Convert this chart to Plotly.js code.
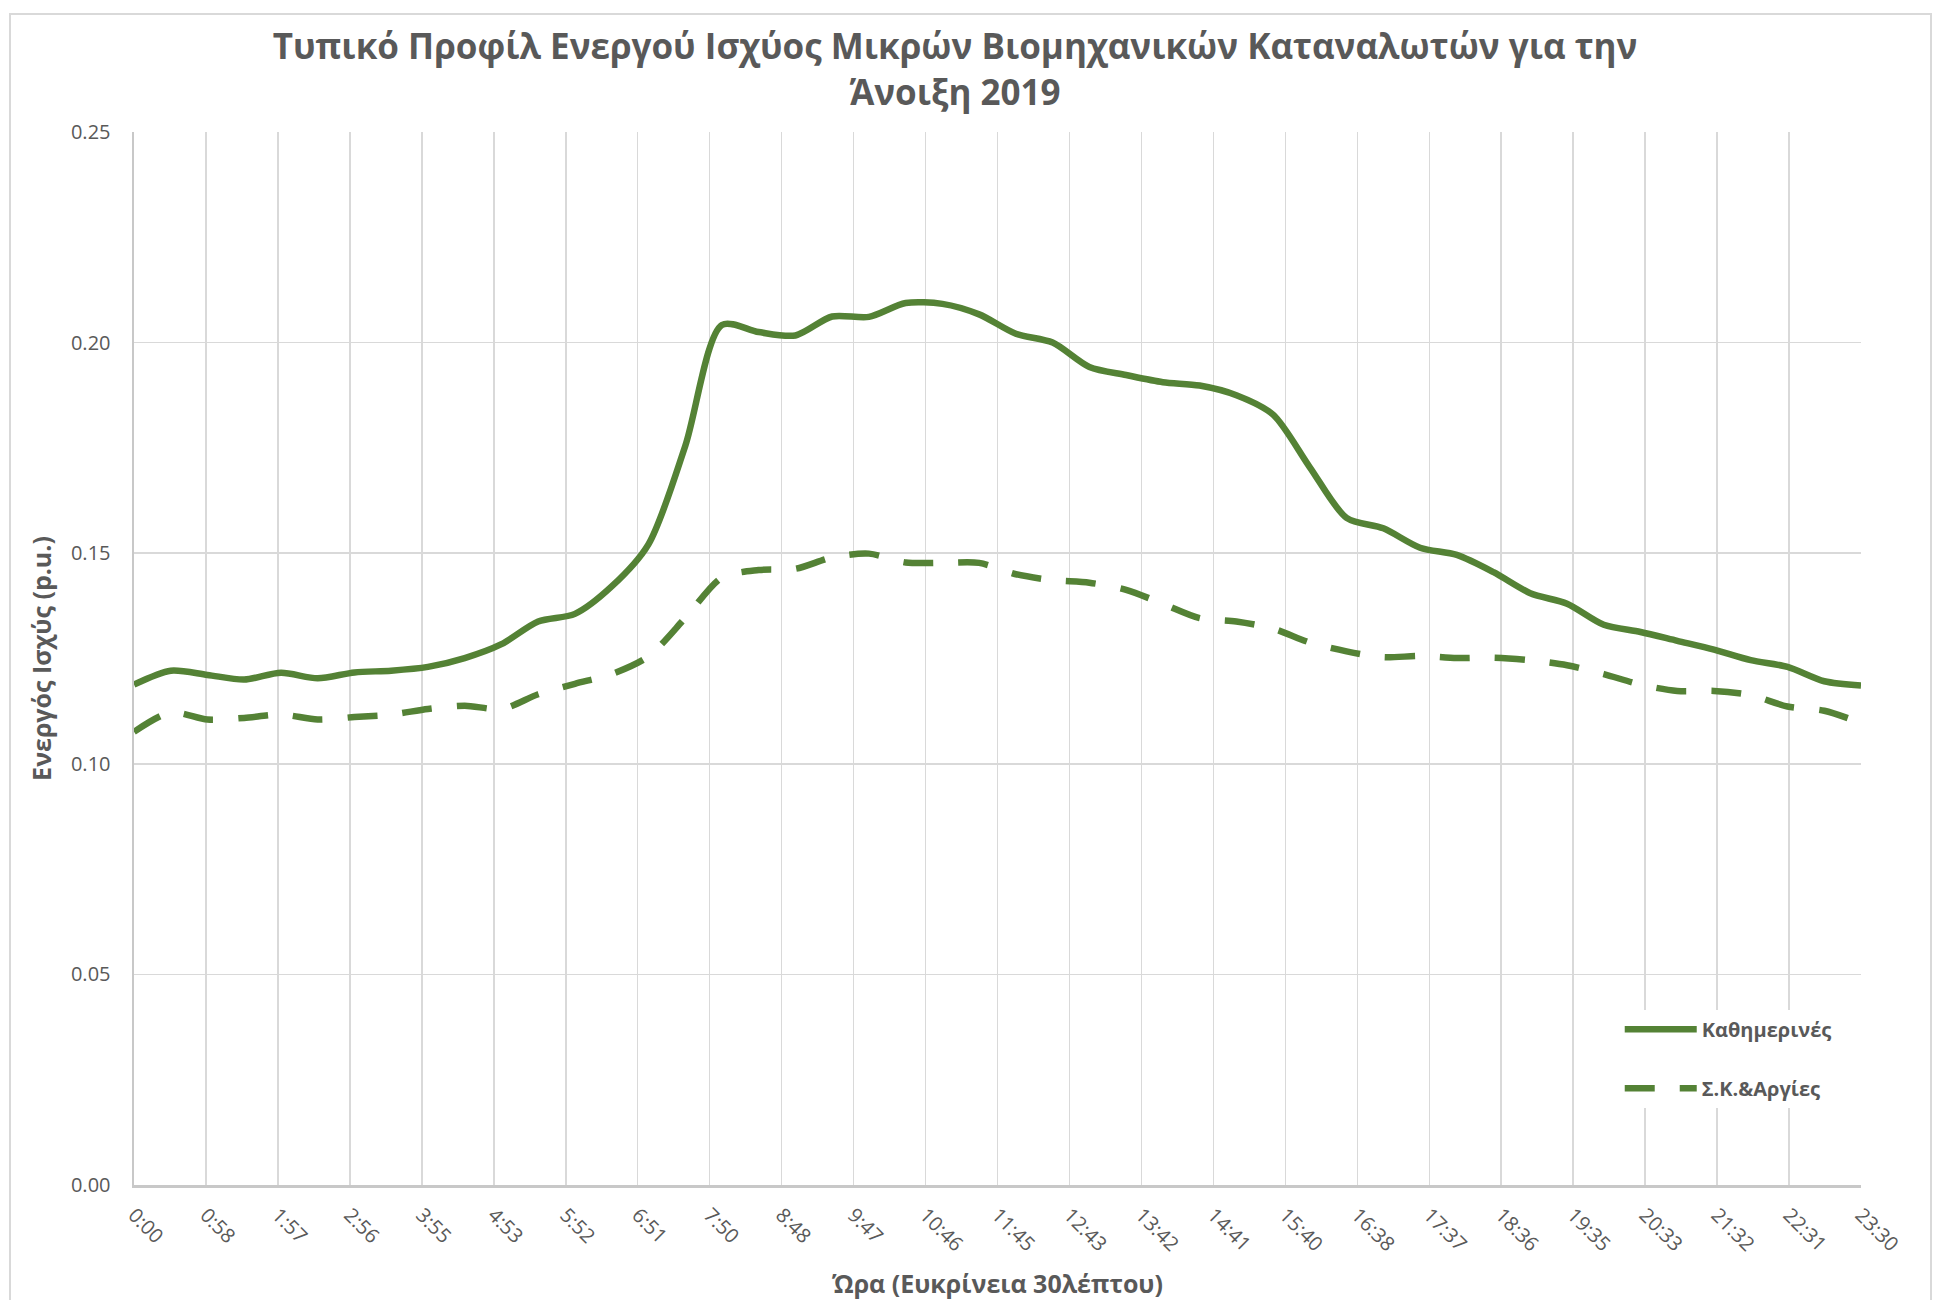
<!DOCTYPE html>
<html>
<head>
<meta charset="utf-8">
<script src="https://cdn.plot.ly/plotly-3.0.1.min.js"></script>
<style>
  html, body { margin: 0; padding: 0; background: #ffffff; width: 1945px; height: 1300px; overflow: hidden; }
  #frame { position: absolute; left: 9px; top: 13px; width: 1923px; height: 1330px; border: 2px solid #d9d9d9; box-sizing: border-box; }
  #chart { position: absolute; left: 0; top: 0; width: 1945px; height: 1300px; }
</style>
</head>
<body>
<div id="frame"></div>
<div id="chart"></div>
<script>
// Half-hour time stamps (0:00 ... 23:30)
const times = ["0:00","0:30","1:00","1:30","2:00","2:30","3:00","3:30","4:00","4:30","5:00","5:30",
  "6:00","6:30","7:00","7:30","8:00","8:30","9:00","9:30","10:00","10:30","11:00","11:30",
  "12:00","12:30","13:00","13:30","14:00","14:30","15:00","15:30","16:00","16:30","17:00","17:30",
  "18:00","18:30","19:00","19:30","20:00","20:30","21:00","21:30","22:00","22:30","23:00","23:30"];

// Weekdays (Καθημερινές), p.u.
const weekdays = [0.1188,0.1221,0.1211,0.1200,0.1216,0.1203,0.1217,0.1221,0.1230,0.1251,0.1284,0.1338,
  0.1356,0.1421,0.1521,0.1754,0.2042,0.2025,0.2017,0.2062,0.2061,0.2094,0.2092,0.2067,
  0.2021,0.2000,0.1942,0.1923,0.1906,0.1898,0.1875,0.1829,0.1704,0.1584,0.1559,0.1513,
  0.1496,0.1455,0.1405,0.1380,0.1330,0.1313,0.1292,0.1271,0.1246,0.1230,0.1196,0.1186];

// Weekends & holidays (Σ.Κ.&Αργίες), p.u.
const weekends = [0.1076,0.1122,0.1105,0.1109,0.1117,0.1105,0.1111,0.1117,0.1130,0.1138,0.1130,0.1165,
  0.1190,0.1213,0.1255,0.1346,0.1442,0.1460,0.1463,0.1490,0.1499,0.1478,0.1477,0.1477,
  0.1450,0.1436,0.1430,0.1413,0.1380,0.1346,0.1338,0.1321,0.1288,0.1267,0.1253,0.1256,
  0.1251,0.1252,0.1246,0.1234,0.1213,0.1188,0.1173,0.1173,0.1163,0.1136,0.1126,0.1097];

// Axis tick labels as shown on the chart
const xTickLabels = ["0:00","0:58","1:57","2:56","3:55","4:53","5:52","6:51","7:50","8:48","9:47",
  "10:46","11:45","12:43","13:42","14:41","15:40","16:38","17:37","18:36","19:35","20:33",
  "21:32","22:31","23:30"];

const seriesNames = ["Καθημερινές", "Σ.Κ.&Αργίες"];
const titleText = "Τυπικό Προφίλ Ενεργού Ισχύος Μικρών Βιομηχανικών Καταναλωτών για την<br>Άνοιξη 2019";
const xTitle = "Ώρα (Ευκρίνεια 30λέπτου)";
const yTitle = "Ενεργός Ισχύς (p.u.)";

const toMin = t => { const p = t.split(":"); return (+p[0]) * 60 + (+p[1]); };
const xMin = times.map(toMin);
const xMax = xMin[xMin.length - 1];
const tickVals = xTickLabels.map((_, i) => i * xMax / (xTickLabels.length - 1));

const green = "#548235";
const textGray = "#595959";
const FONT = "Open Sans, Noto Sans, sans-serif";

const traces = [
  { x: xMin, y: weekdays, name: seriesNames[0], type: "scatter", mode: "lines",
    legendgroup: "a",
    line: { color: green, width: 6.5, shape: "spline", smoothing: 0.8 }, hoverinfo: "skip" },
  { x: xMin, y: weekends, name: seriesNames[1], type: "scatter", mode: "lines",
    legendgroup: "b",
    line: { color: green, width: 6.5, shape: "spline", smoothing: 0.8, dash: "30px,25px" }, hoverinfo: "skip" }
];

const layout = {
  width: 1945, height: 1300,
  paper_bgcolor: "rgba(0,0,0,0)", plot_bgcolor: "#ffffff",
  margin: { l: 134, r: 84, t: 132, b: 115, pad: 0 },
  font: { family: FONT, color: textGray },
  title: {
    text: titleText,
    font: { family: FONT, size: 35, color: textGray, weight: 700 },
    x: 0.491, xref: "container", xanchor: "center",
    y: 1 - 59 / 1300, yref: "container", yanchor: "top"
  },
  xaxis: {
    range: [0, xMax],
    tickmode: "array", tickvals: tickVals, ticktext: xTickLabels,
    tickangle: 45,
    tickfont: { family: FONT, size: 20, color: textGray },
    ticks: "", ticklabelstandoff: 8,
    showgrid: true, gridcolor: "#d9d9d9", gridwidth: 1.5,
    showline: true, linecolor: "#c8c8c8", linewidth: 2.5,
    zeroline: false, fixedrange: true,
    title: { text: xTitle, font: { family: FONT, size: 25, color: textGray, weight: 700 }, standoff: 29 }
  },
  yaxis: {
    range: [0, 0.25], dtick: 0.05, tick0: 0, tickformat: ".2f",
    tickfont: { family: FONT, size: 20, color: textGray },
    ticks: "", ticklabelstandoff: 17,
    showgrid: true, gridcolor: "#d9d9d9", gridwidth: 1.5,
    showline: true, linecolor: "#c8c8c8", linewidth: 2.5,
    zeroline: false, fixedrange: true,
    title: { text: yTitle, font: { family: FONT, size: 25, color: textGray, weight: 700 }, standoff: 12 }
  },
  legend: {
    x: 0.8603, xanchor: "left", y: 0.1665, yanchor: "top",
    bgcolor: "#ffffff", borderwidth: 0,
    font: { family: FONT, size: 20, color: textGray, weight: 700 },
    traceorder: "grouped", tracegroupgap: 30,
    itemwidth: 72
  },
  showlegend: true
};

Plotly.newPlot("chart", traces, layout, { displayModeBar: false, staticPlot: true });
</script>
</body>
</html>
